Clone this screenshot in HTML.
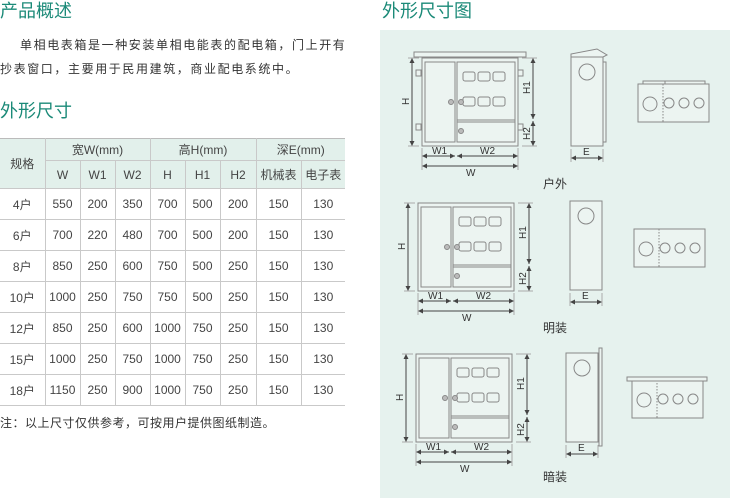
<!DOCTYPE html>
<html><head><meta charset="utf-8"><style>
*{margin:0;padding:0;box-sizing:border-box}
body{width:730px;height:498px;background:#fff;position:relative;overflow:hidden;font-family:"Liberation Sans","Noto Sans CJK SC",sans-serif;color:#333}
.t{position:absolute;color:#1b8a78;font-size:18px;line-height:20px;font-family:"Noto Sans CJK SC",sans-serif}
.p{position:absolute;left:0;font-size:12px;line-height:14px;color:#333;letter-spacing:1.6px;font-family:"Noto Sans CJK SC",sans-serif;white-space:nowrap}
table{position:absolute;left:0;top:138px;border-collapse:collapse;font-size:12px;color:#444;font-family:"Liberation Sans","Noto Sans CJK SC",sans-serif}
td{border:1px solid #c9c9c9;text-align:center;padding:0;height:31px}
tr:first-child td{border-top:1px solid #bbb}
td:first-child{border-left:none}
td:last-child{border-right:none}
.h td{background:#e2f0eb;height:22px}
.h2 td{background:#e2f0eb;height:28px}
#panel{position:absolute;left:380px;top:30px;width:350px;height:468px;background:#e6f2ee}
</style></head><body>
<div class="t" style="left:0;top:0">产品概述</div>
<div class="p" style="left:20px;top:38px">单相电表箱是一种安装单相电能表的配电箱，门上开有</div>
<div class="p" style="top:62px">抄表窗口，主要用于民用建筑，商业配电系统中。</div>
<div class="t" style="left:0;top:100px">外形尺寸</div>
<table>
<colgroup><col style="width:45px"><col style="width:35px"><col style="width:35px"><col style="width:35px"><col style="width:35px"><col style="width:35px"><col style="width:36px"><col style="width:45px"><col style="width:44px"></colgroup>
<tr class="h"><td rowspan="2">规格</td><td colspan="3">宽W(mm)</td><td colspan="3">高H(mm)</td><td colspan="2">深E(mm)</td></tr>
<tr class="h2"><td>W</td><td>W1</td><td>W2</td><td>H</td><td>H1</td><td>H2</td><td>机械表</td><td>电子表</td></tr>
<tr><td>4户</td><td>550</td><td>200</td><td>350</td><td>700</td><td>500</td><td>200</td><td>150</td><td>130</td></tr>
<tr><td>6户</td><td>700</td><td>220</td><td>480</td><td>700</td><td>500</td><td>200</td><td>150</td><td>130</td></tr>
<tr><td>8户</td><td>850</td><td>250</td><td>600</td><td>750</td><td>500</td><td>250</td><td>150</td><td>130</td></tr>
<tr><td>10户</td><td>1000</td><td>250</td><td>750</td><td>750</td><td>500</td><td>250</td><td>150</td><td>130</td></tr>
<tr><td>12户</td><td>850</td><td>250</td><td>600</td><td>1000</td><td>750</td><td>250</td><td>150</td><td>130</td></tr>
<tr><td>15户</td><td>1000</td><td>250</td><td>750</td><td>1000</td><td>750</td><td>250</td><td>150</td><td>130</td></tr>
<tr><td>18户</td><td>1150</td><td>250</td><td>900</td><td>1000</td><td>750</td><td>250</td><td>150</td><td>130</td></tr>
</table>
<div class="p" style="top:416px;letter-spacing:.5px">注：以上尺寸仅供参考，可按用户提供图纸制造。</div>
<div class="t" style="left:382px;top:0">外形尺寸图</div>
<div id="panel"></div>
<svg width="730" height="498" style="position:absolute;left:0;top:0" font-family="Liberation Sans, Noto Sans CJK SC, sans-serif">
<defs>
<marker id="a" viewBox="0 0 6 6" refX="6" refY="3" markerWidth="5" markerHeight="5" orient="auto-start-reverse"><path d="M0,0L6,3L0,6z" fill="#444"/></marker>
<g id="front" fill="#ecf4f1" stroke="#888" stroke-width="1">
<rect x="0" y="0" width="96" height="88"/>
<rect x="3" y="4" width="30" height="80"/>
<rect x="35" y="4" width="58" height="80"/>
<line x1="35" y1="62" x2="93" y2="62"/><line x1="35" y1="64" x2="93" y2="64"/>
<rect x="41" y="14" width="12" height="9" rx="2"/><rect x="56" y="14" width="12" height="9" rx="2"/><rect x="71" y="14" width="12" height="9" rx="2"/>
<rect x="41" y="39" width="12" height="9" rx="2"/><rect x="56" y="39" width="12" height="9" rx="2"/><rect x="71" y="39" width="12" height="9" rx="2"/>
<circle cx="29" cy="44" r="2.5" fill="#bbb"/><circle cx="39" cy="44" r="2.5" fill="#bbb"/><circle cx="39" cy="73" r="2.5" fill="#bbb"/>
<g stroke="#444" fill="none" marker-start="url(#a)" marker-end="url(#a)">
<line x1="-10" y1="0" x2="-10" y2="88"/><line x1="111" y1="0" x2="111" y2="61"/><line x1="111" y1="63" x2="111" y2="88"/>
<line x1="0" y1="98" x2="33" y2="98"/><line x1="35" y1="98" x2="96" y2="98"/><line x1="0" y1="108" x2="96" y2="108"/>
</g>
<g stroke="#aaa"><line x1="0" y1="90" x2="0" y2="112"/><line x1="96" y1="90" x2="96" y2="112"/><line x1="-14" y1="0" x2="-3" y2="0"/><line x1="-14" y1="88" x2="-3" y2="88"/><line x1="100" y1="0" x2="115" y2="0"/><line x1="100" y1="88" x2="115" y2="88"/></g>
<g fill="#333" stroke="none" font-size="10"><text x="10" y="96">W1</text><text x="58" y="96">W2</text><text x="44" y="118">W</text>
<text transform="translate(-13,47) rotate(-90)">H</text><text transform="translate(108,36) rotate(-90)">H1</text><text transform="translate(108,82) rotate(-90)">H2</text></g>
</g>
<g id="top" fill="#ecf4f1" stroke="#888">
<rect x="0" y="0" width="71" height="38"/>
<line x1="25" y1="0" x2="25" y2="38" stroke-dasharray="1.5,1.5"/>
<circle cx="12" cy="20" r="7"/><circle cx="31" cy="19" r="5"/><circle cx="46" cy="19" r="5"/><circle cx="61" cy="19" r="5"/>
</g>
<g id="side" fill="#ecf4f1" stroke="#888">
<rect x="0" y="0" width="32" height="89"/><circle cx="16" cy="15" r="8"/>
<g stroke="#444" fill="none" marker-start="url(#a)" marker-end="url(#a)"><line x1="0" y1="101" x2="32" y2="101"/></g>
<g stroke="#aaa"><line x1="0" y1="92" x2="0" y2="105"/><line x1="32" y1="92" x2="32" y2="105"/></g>
<text x="12" y="98" font-size="10" fill="#333" stroke="none">E</text>
</g>
</defs>
<g fill="#ecf4f1" stroke="#888"><rect x="414" y="52" width="112" height="5"/>
<rect x="416" y="70" width="5" height="6"/><rect x="416" y="124" width="5" height="6"/><rect x="518" y="70" width="5" height="6"/><rect x="518" y="124" width="5" height="6"/></g>
<use href="#front" x="422" y="58"/>
<use href="#side" x="571" y="57"/>
<path d="M571,57 L571,54 L597,49 L607,55 L603,57z" fill="#ecf4f1" stroke="#888"/>
<rect x="603" y="62" width="3" height="80" fill="#ecf4f1" stroke="#888"/>
<g fill="#ecf4f1" stroke="#888"><rect x="643" y="81" width="22" height="3"/><rect x="665" y="81" width="40" height="3"/></g>
<use href="#top" x="638" y="84"/>
<text x="543" y="188" font-size="12" fill="#333">户外</text>
<use href="#front" x="418" y="203"/>
<use href="#side" x="570" y="201"/>
<use href="#top" x="634" y="229"/>
<text x="543" y="332" font-size="12" fill="#333">明装</text>
<use href="#front" x="416" y="354"/>
<use href="#side" x="566" y="353"/>
<rect x="599" y="348" width="3" height="98" fill="#ecf4f1" stroke="#888"/>
<use href="#top" x="632" y="380"/>
<rect x="627" y="377" width="80" height="4" fill="#ecf4f1" stroke="#888"/>
<text x="543" y="481" font-size="12" fill="#333">暗装</text>
</svg>
</body></html>
